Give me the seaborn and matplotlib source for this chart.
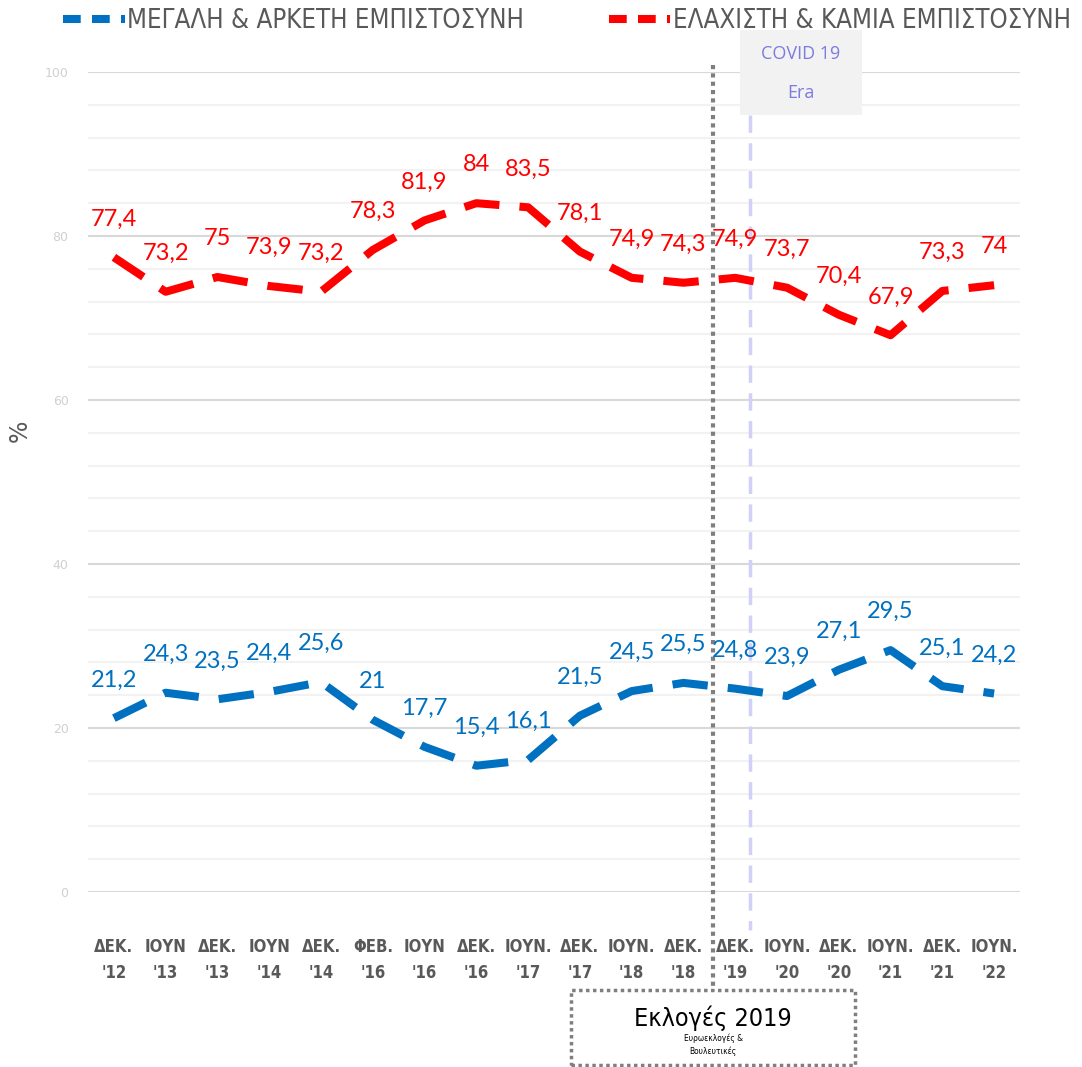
import pandas as pd
import seaborn as sns
import matplotlib.pyplot as plt
from matplotlib import font_manager
from matplotlib.patches import Rectangle
from matplotlib.lines import Line2D
from matplotlib.transforms import blended_transform_factory

# data
periods = ["ΔΕΚ.\n'12", "ΙΟΥΝ\n'13", "ΔΕΚ.\n'13", "ΙΟΥΝ\n'14", "ΔΕΚ.\n'14", "ΦΕΒ.\n'16",
           "ΙΟΥΝ\n'16", "ΔΕΚ.\n'16", "ΙΟΥΝ.\n'17", "ΔΕΚ.\n'17", "ΙΟΥΝ.\n'18", "ΔΕΚ.\n'18",
           "ΔΕΚ.\n'19", "ΙΟΥΝ.\n'20", "ΔΕΚ.\n'20", "ΙΟΥΝ.\n'21", "ΔΕΚ.\n'21", "ΙΟΥΝ.\n'22"]
high_trust = [21.2, 24.3, 23.5, 24.4, 25.6, 21, 17.7, 15.4, 16.1, 21.5, 24.5, 25.5,
              24.8, 23.9, 27.1, 29.5, 25.1, 24.2]
low_trust = [77.4, 73.2, 75, 73.9, 73.2, 78.3, 81.9, 84, 83.5, 78.1, 74.9, 74.3,
             74.9, 73.7, 70.4, 67.9, 73.3, 74]
high_name = "ΜΕΓΑΛΗ & ΑΡΚΕΤΗ ΕΜΠΙΣΤΟΣΥΝΗ"
low_name = "ΕΛΑΧΙΣΤΗ & ΚΑΜΙΑ ΕΜΠΙΣΤΟΣΥΝΗ"

BLUE = "#0070C0"
RED = "#FF0000"
GRAY = "#595959"


def pick(name, fallback="DejaVu Sans"):
    try:
        font_manager.findfont(name, fallback_to_default=False)
        return [name, fallback]
    except Exception:
        return [fallback]


label_font = pick("Lato")
box_font = pick("Open Sans")

sns.set_theme(style="white")
plt.rcParams["font.family"] = ["DejaVu Sans"]

df = pd.DataFrame({"x": range(len(periods)), "high": high_trust, "low": low_trust})

fig = plt.figure(figsize=(10.82, 10.67), dpi=100)
ax = fig.add_axes([88 / 1082, (1067 - 892) / 1067, 932 / 1082, 820 / 1067])

# gridlines
for v in range(0, 101, 4):
    ax.axhline(v, color="#F2F2F2", lw=1.5, zorder=0)
for v in range(0, 101, 20):
    ax.axhline(v, color="#D9D9D9", lw=1.5, zorder=0)

for col, color in [("high", BLUE), ("low", RED)]:
    sns.lineplot(data=df, x="x", y=col, ax=ax, color=color, lw=5.8, zorder=3)
    ln = ax.lines[-1]
    ln.set_linestyle((0, (4.4, 2.5)))
    ln.set_dash_capstyle("butt")

for i in range(len(periods)):
    for vals, color in [(high_trust, BLUE), (low_trust, RED)]:
        txt = f"{vals[i]:g}".replace(".", ",")
        ax.annotate(txt, (i, vals[i]), xytext=(0, 20), textcoords="offset points",
                    ha="center", va="bottom", color=color, fontsize=17,
                    family=label_font, zorder=4)

ax.set_xlim(-0.5, len(periods) - 0.5)
ax.set_ylim(0, 100)
ax.set_xticks(range(len(periods)))
ax.set_xticklabels(periods, fontsize=12, fontweight="bold", color=GRAY,
                   fontstretch="condensed", linespacing=1.6)
ax.set_yticks(range(0, 101, 20))
ax.set_yticklabels([str(v) for v in range(0, 101, 20)], fontsize=9, color="#D0D0D0")
ax.tick_params(axis="x", length=0, pad=33)
ax.tick_params(axis="y", length=0, pad=14)
for s in ax.spines.values():
    s.set_visible(False)
ax.set_xlabel("")
ax.set_ylabel("%", fontsize=17, color=GRAY)
ax.yaxis.set_label_coords(-0.060, 0.563)

# vertical markers
bt = blended_transform_factory(ax.transData, ax.transAxes)
ax.plot([11.58, 11.58], [1.009, -0.132], transform=bt, color="#7F7F7F", lw=3,
        ls=(0, (1, 1)), clip_on=False, zorder=2)
ax.plot([12.28, 12.28], [0.948, -0.046], transform=bt, color="#D0D0F8", lw=2.5,
        ls=(0, (5, 3)), clip_on=False, zorder=2)

# COVID box
fig.patches.append(Rectangle((740 / 1082, (1067 - 115) / 1067), 122 / 1082, 85 / 1067,
                             transform=fig.transFigure, facecolor="#F2F2F2",
                             edgecolor="none", zorder=1))
fig.text(801 / 1082, (1067 - 54) / 1067, "COVID 19", ha="center", va="center",
         color="#7B7BE0", fontsize=13, family=box_font)
fig.text(801 / 1082, (1067 - 93) / 1067, "Era", ha="center", va="center",
         color="#7B7BE0", fontsize=13, family=box_font)

# elections box
fig.patches.append(Rectangle((571 / 1082, 2 / 1067), 284 / 1082, 75 / 1067,
                             transform=fig.transFigure, facecolor="white",
                             edgecolor="#7F7F7F", lw=2.5, ls=(0, (1, 1)), zorder=1))
fig.text(713 / 1082, (1067 - 1018) / 1067, "Εκλογές 2019", ha="center", va="center",
         color="black", fontsize=18, fontstretch="condensed")
fig.text(713 / 1082, (1067 - 1045) / 1067, "Ευρωεκλογές &\nΒουλευτικές", ha="center",
         va="center", color="black", fontsize=6, fontstretch="condensed", linespacing=1.5)

# legend
handles = [Line2D([], [], color=BLUE, lw=5.8, ls=(0, (2.2, 1.4))),
           Line2D([], [], color=RED, lw=5.8, ls=(0, (2.2, 1.4)))]
leg = fig.legend(handles, [high_name, low_name], loc="upper center",
                 bbox_to_anchor=(0.524, 1.014), ncol=2, frameon=False,
                 handlelength=2.4, handletextpad=0.1, columnspacing=3.3,
                 prop={"size": 18.5, "stretch": "condensed"})
for t in leg.get_texts():
    t.set_color(GRAY)

fig.savefig("out.png", dpi=100)
